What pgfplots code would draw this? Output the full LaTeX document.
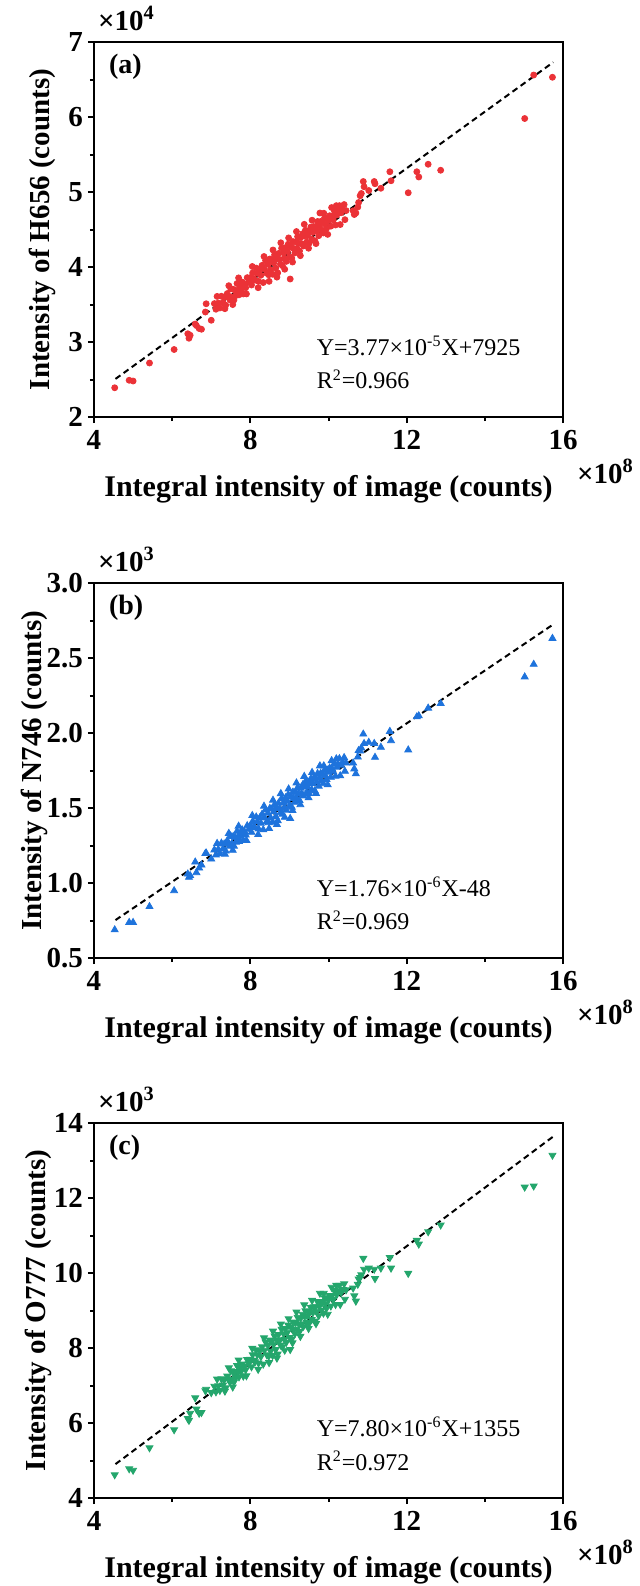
\documentclass[border=0pt]{standalone}
\usepackage{fontspec}
\setmainfont{Liberation Serif}
\usepackage{pgfplots}
\pgfplotsset{compat=1.18}
\usepackage{pgfplotstable}

\definecolor{cred}{RGB}{235,50,55}
\definecolor{cblue}{RGB}{30,115,220}
\definecolor{cgreen}{RGB}{36,166,108}

% x in 1e8 counts; a (H656) in 1e4; b (N746) in 1e3; c (O777) in 1e3
\pgfplotstableread{
x a b c
4.53 2.39 0.688 4.62
4.90 2.49 0.737 4.78
5.00 2.48 0.737 4.74
5.42 2.72 0.843 5.34
6.05 2.90 0.949 5.82
6.40 3.11 1.060 6.12
6.43 3.05 1.038 6.07
6.46 3.09 1.050 6.26
6.59 3.24 1.140 6.67
6.62 3.22 1.069 6.37
6.69 3.18 1.100 6.26
6.75 3.17 1.120 6.28
6.85 3.40 1.197 6.86
6.87 3.51 1.200 6.90
7.00 3.29 1.160 6.81
7.08 3.512 1.221 6.98
7.12 3.437 1.187 6.83
7.18 3.519 1.225 6.99
7.22 3.454 1.196 6.87
7.26 3.610 1.266 7.18
7.30 3.525 1.228 7.01
7.33 3.596 1.260 7.15
7.37 3.491 1.213 6.94
7.41 3.646 1.283 7.25
7.44 3.597 1.261 7.16
7.48 3.562 1.246 7.09
7.50 3.710 1.312 7.39
7.53 3.601 1.264 7.17
7.56 3.703 1.310 7.37
7.58 3.560 1.246 7.09
7.61 3.692 1.305 7.35
7.63 3.619 1.272 7.21
7.66 3.780 1.345 7.53
7.68 3.688 1.304 7.35
7.71 3.629 1.277 7.23
7.74 3.750 1.332 7.47
7.76 3.698 1.309 7.37
7.79 3.799 1.355 7.57
7.82 3.641 1.283 7.25
7.85 3.772 1.343 7.52
7.88 3.723 1.321 7.42
7.92 3.858 1.382 7.69
7.96 3.803 1.358 7.58
8.00 3.859 1.383 7.70
8.03 3.760 1.338 7.50
8.06 3.921 1.411 7.82
8.09 3.842 1.376 7.67
8.12 3.824 1.368 7.63
8.15 3.985 1.440 7.95
8.18 3.916 1.410 7.82
8.21 3.808 1.361 7.60
8.24 3.969 1.434 7.92
8.27 3.890 1.399 7.77
8.30 4.022 1.458 8.03
8.33 3.793 1.355 7.57
8.36 3.974 1.437 7.94
8.39 4.086 1.487 8.16
8.42 3.917 1.411 7.82
8.45 4.038 1.466 8.07
8.47 3.896 1.402 7.78
8.50 4.107 1.498 8.21
8.52 3.965 1.434 7.92
8.55 4.096 1.493 8.18
8.57 3.903 1.406 7.80
8.60 4.055 1.475 8.10
8.62 4.162 1.523 8.32
8.65 3.984 1.443 7.96
8.67 4.111 1.500 8.22
8.70 3.922 1.416 7.84
8.72 4.180 1.532 8.36
8.75 4.101 1.497 8.20
8.77 4.039 1.469 8.08
8.80 4.250 1.564 8.50
8.82 4.018 1.459 8.03
8.85 4.189 1.537 8.38
8.87 4.117 1.504 8.23
8.90 4.258 1.568 8.52
8.92 4.075 1.486 8.15
8.95 4.207 1.545 8.42
8.97 4.304 1.589 8.61
9.00 4.136 1.514 8.28
9.02 3.840 1.430 7.96
9.04 4.271 1.575 8.55
9.06 4.118 1.506 8.24
9.09 4.339 1.606 8.69
9.11 4.247 1.564 8.50
9.14 4.188 1.538 8.38
9.16 4.336 1.605 8.68
9.19 4.247 1.565 8.50
9.21 4.405 1.636 8.82
9.24 4.316 1.596 8.64
9.26 4.214 1.550 8.44
9.29 4.395 1.632 8.80
9.31 4.312 1.595 8.64
9.34 4.444 1.654 8.90
9.36 4.281 1.581 8.58
9.39 4.413 1.641 8.84
9.41 4.490 1.676 8.99
9.44 4.331 1.604 8.68
9.46 4.419 1.644 8.85
9.48 4.477 1.670 8.97
9.50 4.314 1.597 8.65
9.52 4.472 1.668 8.96
9.55 4.533 1.696 9.08
9.57 4.370 1.623 8.76
9.60 4.462 1.664 8.94
9.62 4.539 1.699 9.10
9.65 4.351 1.614 8.72
9.67 4.538 1.699 9.10
9.70 4.479 1.673 8.98
9.72 4.607 1.730 9.24
9.75 4.418 1.646 8.86
9.77 4.546 1.703 9.12
9.80 4.607 1.731 9.24
9.82 4.495 1.680 9.01
9.85 4.596 1.726 9.22
9.87 4.454 1.662 8.93
9.90 4.655 1.753 9.34
9.92 4.572 1.716 9.17
9.95 4.514 1.690 9.06
9.97 4.651 1.752 9.33
10.00 4.623 1.739 9.28
10.03 4.684 1.767 9.40
10.06 4.545 1.705 9.12
10.09 4.676 1.764 9.39
10.12 4.628 1.742 9.29
10.15 4.749 1.797 9.53
10.18 4.560 1.712 9.16
10.21 4.692 1.772 9.42
10.24 4.743 1.795 9.52
10.30 4.566 1.715 9.16
10.32 4.723 1.786 9.48
10.37 4.762 1.804 9.56
10.42 4.631 1.745 9.30
10.63 4.75 1.800 9.60
10.66 4.70 1.761 9.39
10.70 4.72 1.728 9.25
10.75 4.80 1.840 9.70
10.77 4.86 1.883 9.84
10.81 4.95 1.880 9.88
10.84 4.98 1.900 9.95
10.89 5.14 1.993 10.39
10.91 5.07 1.930 10.10
11.03 5.02 1.938 10.13
11.17 5.14 1.930 10.10
11.19 5.11 1.838 9.85
11.34 5.05 1.905 10.13
11.57 5.27 2.011 10.41
11.60 5.15 1.949 10.13
12.04 4.99 1.887 9.99
12.26 5.27 2.108 10.87
12.31 5.20 2.115 10.77
12.55 5.37 2.166 11.10
12.87 5.29 2.197 11.28
15.02 5.98 2.374 12.29
15.25 6.56 2.458 12.32
15.73 6.53 2.631 13.14
7.15 3.608 1.264 7.17
7.35 3.444 1.192 6.85
7.45 3.751 1.331 7.47
7.55 3.499 1.218 6.96
7.70 3.855 1.379 7.68
7.90 3.641 1.284 7.26
8.05 4.007 1.450 7.99
8.20 3.724 1.323 7.43
8.35 4.140 1.512 8.27
8.48 3.809 1.363 7.61
8.58 4.227 1.552 8.45
8.68 3.865 1.390 7.73
8.78 4.323 1.596 8.64
8.88 3.970 1.438 7.94
8.98 4.388 1.627 8.78
9.08 4.066 1.483 8.14
9.18 4.473 1.667 8.96
9.28 4.151 1.522 8.31
9.38 4.569 1.711 9.15
9.49 4.250 1.568 8.52
9.58 4.624 1.737 9.27
9.68 4.312 1.597 8.65
9.78 4.720 1.781 9.46
9.88 4.717 1.781 9.46
9.98 4.435 1.655 8.90
10.08 4.793 1.816 9.62
10.20 4.818 1.828 9.67
10.28 4.818 1.829 9.67
10.40 4.833 1.836 9.71
10.45 4.752 1.800 9.55
}\data

\newcommand{\tickfont}{\bfseries\fontsize{14.5}{14.5}\selectfont}
\newcommand{\labfont}{\bfseries\fontsize{15}{15}\selectfont}
\newcommand{\ylabfont}{\bfseries\fontsize{14.5}{14.5}\selectfont}
\newcommand{\annfont}{\fontsize{12}{12}\selectfont}

\pgfplotsset{
  myax/.style={
    width=234.5pt, height=187.5pt, scale only axis,
    anchor=north west,
    xmin=4, xmax=16, xtick={4,8,12,16}, minor x tick num=1,
    minor y tick num=1,
    scaled ticks=false,
    axis line style={line width=1pt},
    tick align=outside, xtick pos=left, ytick pos=left,
    major tick length=3pt, minor tick length=2pt,
    every tick/.style={line width=1pt, black},
    /pgf/number format/assume math mode=true,
    ticklabel style={font=\tickfont},
    yticklabel style={xshift=1pt},
    xlabel={Integral intensity of image (counts)},
    xlabel style={font=\labfont, at={(axis description cs:0.5,0)}, anchor=base, yshift=-39.5pt},
    clip=false,
  }
}

\begin{document}
\begin{tikzpicture}
\useasboundingbox (0,0) rectangle (320pt,-793pt);

% (a)
\begin{axis}[myax, at={(47pt,-21pt)}, ymin=2, ymax=7, ytick={2,3,4,5,6,7},
  ylabel={Intensity of H656 (counts)},
  ylabel style={font=\ylabfont, at={(axis description cs:-0.111,0.5)}, anchor=center}]
\addplot[only marks, mark=*, mark size=1.5pt, color=cred] table[x=x, y=a] {\data};
\addplot[black, line width=1pt, dash pattern=on 3pt off 2pt] coordinates {(4.55,2.508) (15.75,6.730)};
\node[anchor=base west, font=\tickfont] at (rel axis cs:0,1) [xshift=-1.5pt, yshift=6pt] {×10\textsuperscript{4}};
\node[anchor=base west, font=\tickfont] at (rel axis cs:1,0) [xshift=3.5pt, yshift=-33pt] {×10\textsuperscript{8}};
\node[anchor=west, font=\bfseries\fontsize{14}{14}\selectfont] at (rel axis cs:0,1) [xshift=4pt, yshift=-12.5pt] {(a)};
\node[anchor=west, font=\annfont] at (rel axis cs:0.46,0.19) {Y=3.77×10\textsuperscript{-5}X+7925};
\node[anchor=west, font=\annfont] at (rel axis cs:0.46,0.10) {R\textsuperscript{2}=0.966};
\end{axis}

% (b)
\begin{axis}[myax, at={(47pt,-291.5pt)}, ymin=0.5, ymax=3.0, ytick={0.5,1.0,1.5,2.0,2.5,3.0},
  yticklabel style={/pgf/number format/.cd, fixed, fixed zerofill, precision=1},
  ylabel={Intensity of N746 (counts)},
  ylabel style={font=\ylabfont, at={(axis description cs:-0.128,0.5)}, anchor=center}]
\addplot[only marks, mark=triangle*, mark size=2pt, color=cblue] table[x=x, y=b] {\data};
\addplot[black, line width=1pt, dash pattern=on 3pt off 2pt] coordinates {(4.55,0.753) (15.75,2.724)};
\node[anchor=base west, font=\tickfont] at (rel axis cs:0,1) [xshift=-1.5pt, yshift=6pt] {×10\textsuperscript{3}};
\node[anchor=base west, font=\tickfont] at (rel axis cs:1,0) [xshift=3.5pt, yshift=-33pt] {×10\textsuperscript{8}};
\node[anchor=west, font=\bfseries\fontsize{14}{14}\selectfont] at (rel axis cs:0,1) [xshift=4pt, yshift=-12.5pt] {(b)};
\node[anchor=west, font=\annfont] at (rel axis cs:0.46,0.19) {Y=1.76×10\textsuperscript{-6}X-48};
\node[anchor=west, font=\annfont] at (rel axis cs:0.46,0.10) {R\textsuperscript{2}=0.969};
\end{axis}

% (c)
\begin{axis}[myax, at={(47pt,-561.5pt)}, ymin=4, ymax=14, ytick={4,6,8,10,12,14},
  ylabel={Intensity of O777 (counts)},
  ylabel style={font=\ylabfont, at={(axis description cs:-0.118,0.5)}, anchor=center}]
\addplot[only marks, mark=triangle*, mark size=2pt, color=cgreen, mark options={rotate=180}] table[x=x, y=c] {\data};
\addplot[black, line width=1pt, dash pattern=on 3pt off 2pt] coordinates {(4.55,4.904) (15.75,13.640)};
\node[anchor=base west, font=\tickfont] at (rel axis cs:0,1) [xshift=-1.5pt, yshift=6pt] {×10\textsuperscript{3}};
\node[anchor=base west, font=\tickfont] at (rel axis cs:1,0) [xshift=3.5pt, yshift=-33pt] {×10\textsuperscript{8}};
\node[anchor=west, font=\bfseries\fontsize{14}{14}\selectfont] at (rel axis cs:0,1) [xshift=4pt, yshift=-12.5pt] {(c)};
\node[anchor=west, font=\annfont] at (rel axis cs:0.46,0.19) {Y=7.80×10\textsuperscript{-6}X+1355};
\node[anchor=west, font=\annfont] at (rel axis cs:0.46,0.10) {R\textsuperscript{2}=0.972};
\end{axis}
\end{tikzpicture}
\end{document}
